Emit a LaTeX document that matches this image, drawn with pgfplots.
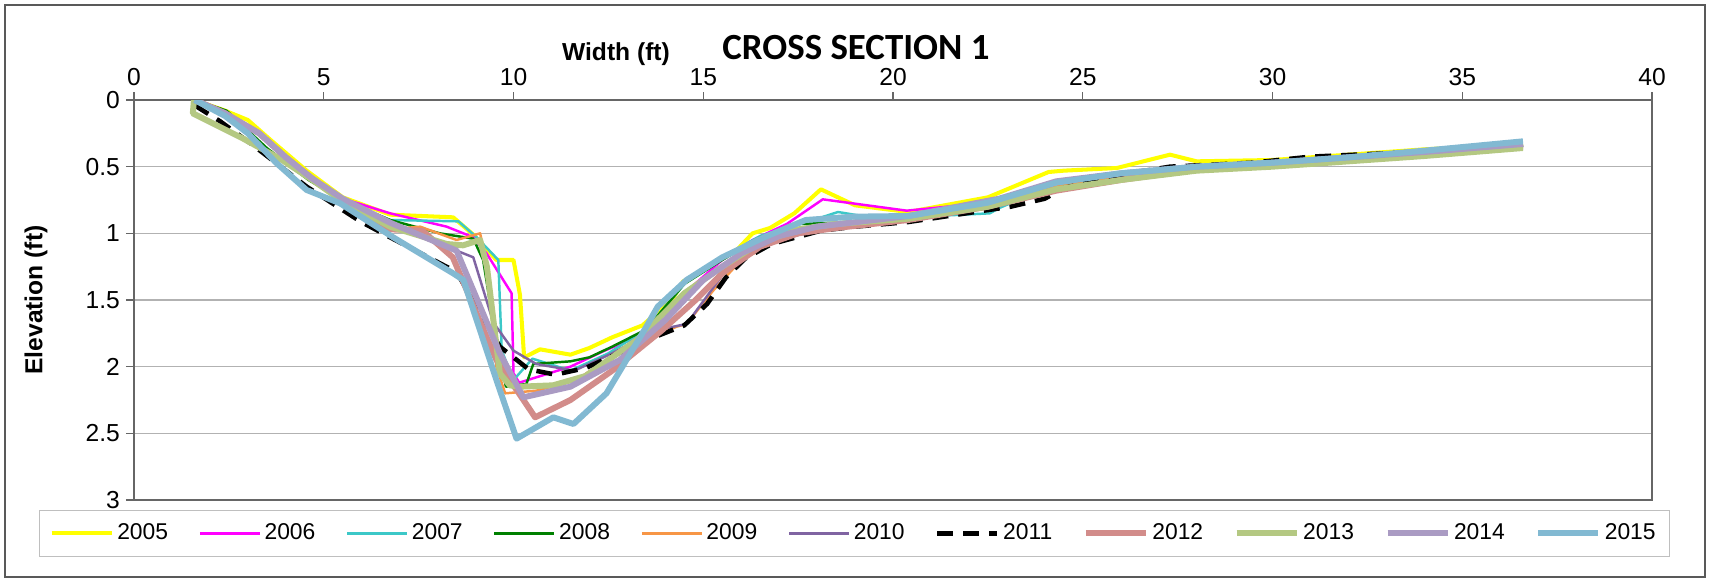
\documentclass[border=0pt]{standalone}
\usepackage{fontspec}
\setmainfont{Liberation Sans}
\newfontfamily\carlito{Carlito}
\usepackage{pgfplots}
\pgfplotsset{compat=1.18}

\definecolor{c05}{RGB}{255,255,0}
\definecolor{c06}{RGB}{255,0,255}
\definecolor{c07}{RGB}{60,200,200}
\definecolor{c08}{RGB}{0,128,0}
\definecolor{c09}{RGB}{247,150,70}
\definecolor{c10}{RGB}{128,100,162}
\definecolor{c12}{RGB}{210,140,138}
\definecolor{c13}{RGB}{180,200,130}
\definecolor{c14}{RGB}{170,155,195}
\definecolor{c15}{RGB}{130,185,210}

\begin{document}
\begin{tikzpicture}
\begin{axis}[
    scale only axis,
    width=303.6mm, height=80mm,
    xmin=0, xmax=40, ymin=0, ymax=3,
    y dir=reverse,
    xtick={0,5,...,40},
    ytick={0,0.5,1,1.5,2,2.5,3},
    xtick pos=right, xticklabel pos=right,
    ytick pos=left,
    tick align=outside,
    major tick length=1.6mm,
    ymajorgrids,
    grid style={draw=black!30, line width=0.8pt},
    axis line style={draw=black!60, line width=1pt},
    tick style={draw=black!60, line width=0.8pt},
    ticklabel style={font=\fontsize{14}{16}\selectfont},
    /pgf/number format/assume math mode=true,
    xlabel={Width (ft)},
    xlabel style={at={(axis description cs:0.3175,1.115)}, anchor=center, inner sep=0pt,
        font=\fontsize{14}{16}\selectfont\bfseries},
    ylabel={Elevation (ft)},
    ylabel style={at={(axis description cs:-0.0646,0.5)}, anchor=center,
        font=\fontsize{14}{16}\selectfont\bfseries},
    title={CROSS SECTION 1},
    title style={at={(axis description cs:0.4756,1.104)}, anchor=center, inner sep=0pt,
        font=\carlito\bfseries\fontsize{21}{25}\selectfont},
    legend columns=11,
    legend cell align=left,
    legend style={at={(axis description cs:0.4746,0)}, anchor=north, yshift=-2mm,
        draw=black!25, line width=0.6pt, font=\fontsize{13}{15}\selectfont,
        inner xsep=2mm, inner ysep=2mm,
        /tikz/every even column/.append style={column sep=5.4mm}},
    legend image code/.code={\draw[#1] (0mm,0mm) -- (12mm,0mm);},
    every axis plot/.append style={line join=round},
]

% 2005
\addplot[c05, line width=2.3pt] coordinates {
(1.6,0) (2.4,0.08) (3.0,0.15) (3.6,0.3) (4.55,0.53) (5.5,0.73) (6.75,0.86)
(8.41,0.88) (8.94,1.01) (9.55,1.2) (10.0,1.2) (10.17,1.46) (10.28,1.93)
(10.7,1.87) (11.5,1.91) (12.0,1.86) (12.6,1.78) (13.4,1.69) (14.2,1.49)
(14.47,1.36) (14.7,1.33) (15.9,1.12) (16.3,1.0) (16.76,0.96) (17.4,0.85)
(18.1,0.67) (19.0,0.79) (20.4,0.84) (22.5,0.73) (24.1,0.54) (24.5,0.53)
(25.9,0.51) (27.3,0.41) (28.0,0.46) (30,0.45) (32,0.41) (34,0.37) (36.6,0.33)
};
% 2006
\addplot[c06, line width=1.4pt] coordinates {
(1.6,0) (2.4,0.1) (3.4,0.27) (4.0,0.43) (4.7,0.58) (5.5,0.74) (6.75,0.85)
(8.24,0.95) (8.94,1.03) (9.29,1.15) (9.95,1.45) (10.0,2.05) (10.15,2.12)
(11.5,2.0) (12.4,1.88) (13.5,1.75) (14.5,1.45) (15.5,1.2) (16.3,1.05)
(17.2,0.93) (18.15,0.745) (20.36,0.83) (22.5,0.77) (24.3,0.62) (26,0.55)
(28,0.5) (30,0.47) (32,0.43) (34,0.39) (36.6,0.34)
};
% 2007
\addplot[c07, line width=1.4pt] coordinates {
(1.6,0) (2.4,0.1) (3.3,0.25) (4.0,0.43) (4.7,0.59) (5.5,0.75) (6.75,0.9)
(8.55,0.91) (9.03,1.03) (9.6,1.2) (9.69,1.88) (10.0,2.1) (10.5,1.94)
(11.5,2.03) (12.5,1.9) (13.5,1.72) (14.56,1.36) (15.5,1.18) (16.5,1.02)
(17.9,0.9) (18.55,0.84) (19.3,0.875) (20.4,0.88) (22.55,0.85) (22.8,0.81)
(24.3,0.63) (26,0.56) (28,0.51) (30,0.48) (32,0.44) (34,0.4) (36.6,0.34)
};
% 2008
\addplot[c08, line width=1.4pt] coordinates {
(1.6,0) (2.44,0.08) (3.5,0.36) (4.6,0.6) (5.5,0.75) (6.75,0.9) (8.06,1.0)
(8.94,1.04) (9.2,1.2) (9.47,1.68) (9.8,2.15) (10.34,2.13) (10.52,1.98)
(11.5,1.96) (12.0,1.93) (12.6,1.85) (13.5,1.72) (14.5,1.38) (15.5,1.2)
(16.5,1.03) (17.5,0.93) (18.5,0.92) (20.4,0.88) (22.5,0.79) (24.3,0.63)
(26,0.56) (28,0.51) (30,0.48) (32,0.44) (34,0.4) (36.6,0.34)
};
% 2009
\addplot[c09, line width=1.4pt] coordinates {
(1.6,0) (2.4,0.1) (3.4,0.27) (4.0,0.44) (4.7,0.6) (5.5,0.75) (6.75,0.97)
(7.54,0.95) (8.5,1.05) (9.12,1.0) (9.29,1.22) (9.55,2.0) (9.78,2.2)
(10.6,2.18) (11.66,2.1) (12.8,1.88) (14.3,1.7) (14.56,1.68) (15.26,1.43)
(16,1.2) (17,1.05) (18,0.97) (20.4,0.9) (22.5,0.8) (24.3,0.65) (26,0.57)
(28,0.5) (30,0.47) (32,0.43) (34,0.39) (36.6,0.34)
};
% 2010
\addplot[c10, line width=1.4pt] coordinates {
(1.6,0) (2.4,0.1) (3.3,0.25) (4.0,0.43) (4.7,0.59) (5.5,0.75) (6.75,0.92)
(8.24,1.1) (8.94,1.18) (9.47,1.67) (10.0,1.88) (10.6,1.98) (11.6,2.03)
(12.6,1.9) (13.7,1.73) (14.56,1.68) (15.8,1.2) (16.8,1.06) (18,0.98)
(20.4,0.9) (22.5,0.77) (24.3,0.62) (26,0.55) (28,0.5) (30,0.47) (32,0.43)
(34,0.39) (36.6,0.34)
};
% 2011
\addplot[black, line width=2.6pt, dash pattern=on 3.2mm off 2mm] coordinates {
(1.6,0.04) (2.27,0.16) (3.14,0.34) (4.55,0.65) (5.96,0.91) (6.75,1.03)
(8.5,1.29) (9.64,1.85) (10.4,2.02) (11.1,2.06) (11.9,2.01) (13.7,1.78)
(14.5,1.69) (15.1,1.53) (15.6,1.33) (16.1,1.19) (16.8,1.08) (18.1,0.98)
(19.0,0.95) (20.4,0.915) (23.1,0.8) (24.0,0.74) (24.5,0.66) (26,0.56)
(27.3,0.5) (29.5,0.47) (31,0.425) (33,0.4) (36.6,0.34)
};
% 2012
\addplot[c12, line width=3.4pt] coordinates {
(1.6,0) (2.4,0.1) (3.3,0.25) (4.0,0.43) (4.7,0.59) (5.5,0.75) (6.75,0.97)
(7.6,0.98) (8.4,1.18) (9.55,1.95) (10.57,2.38) (11.5,2.25) (12.6,2.03)
(13.9,1.73) (14.8,1.5) (15.5,1.3) (16.5,1.1) (17.5,1.0) (18.5,0.96)
(20.4,0.9) (22.5,0.8) (24.3,0.68) (26,0.6) (28,0.52) (30,0.48) (32,0.44)
(34,0.4) (36.6,0.35)
};
% 2013
\addplot[c13, line width=3.4pt] coordinates {
(1.58,0.0) (1.55,0.1) (2.88,0.29) (3.9,0.45) (4.7,0.6) (5.5,0.76) (6.75,0.95)
(8.24,1.08) (8.67,1.09) (9.12,1.05) (9.3,1.25) (9.64,2.05) (9.9,2.14)
(10.17,2.15) (11.04,2.14) (11.9,2.07) (13.25,1.8) (14.5,1.45) (15.5,1.25)
(16.5,1.07) (17.5,0.97) (18.5,0.93) (20.4,0.89) (22.5,0.8) (24.3,0.67)
(26,0.6) (28,0.53) (30,0.5) (32,0.46) (34,0.42) (36.6,0.36)
};
% 2014
\addplot[c14, line width=3.4pt] coordinates {
(1.6,0) (2.4,0.1) (3.3,0.25) (4.0,0.43) (4.7,0.59) (5.5,0.74) (6.75,0.92)
(8.5,1.13) (9.64,1.9) (10.26,2.23) (11.5,2.15) (12.8,1.95) (14,1.65)
(15,1.35) (16,1.15) (17,1.02) (18,0.95) (20.4,0.87) (22.8,0.74) (24.3,0.61)
(26,0.55) (28,0.5) (30,0.47) (32,0.43) (34,0.39) (36.6,0.33)
};
% 2015
\addplot[c15, line width=3.4pt] coordinates {
(1.6,0) (2.4,0.12) (3.0,0.25) (3.76,0.475) (4.55,0.675) (5.43,0.775)
(6.83,1.03) (8.41,1.3) (8.68,1.35) (9.55,2.1) (10.08,2.54) (11.05,2.38)
(11.58,2.43) (12.45,2.2) (13.5,1.7) (13.8,1.55) (14.56,1.35) (15.5,1.18)
(16.6,1.03) (17.7,0.9) (18.95,0.875) (20.4,0.87) (22.5,0.77) (24.3,0.62)
(26,0.55) (28,0.5) (30,0.47) (32,0.43) (34,0.38) (36.6,0.31)
};

\legend{2005,2006,2007,2008,2009,2010,2011,2012,2013,2014,2015}
\end{axis}
\draw[black!65, line width=1.4pt] (-25.8mm,-15.4mm) rectangle (314.2mm,99mm);
\pgfresetboundingbox
\path[use as bounding box] (-26.8mm,-16.4mm) rectangle (315mm,100mm);
\end{tikzpicture}
\end{document}
